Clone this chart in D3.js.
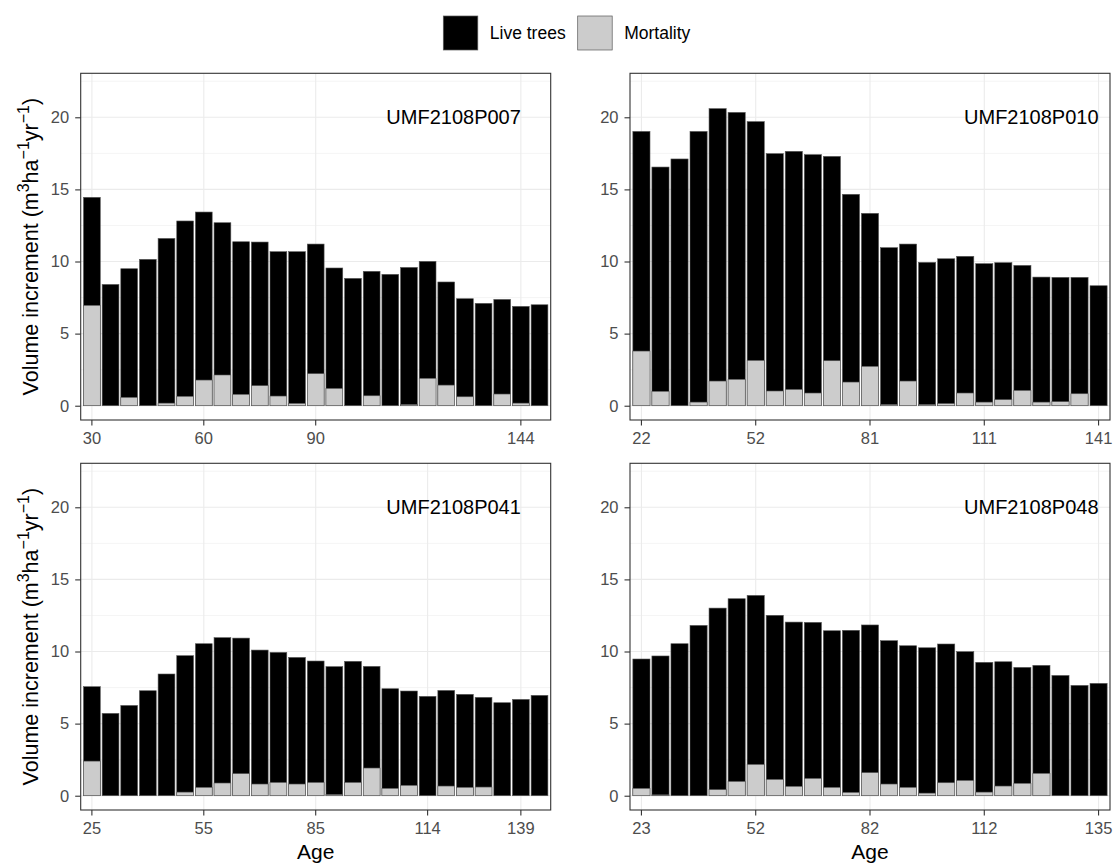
<!DOCTYPE html>
<html><head><meta charset="utf-8">
<script src="https://cdn.jsdelivr.net/npm/d3@7"></script>
<style>
body{margin:0;background:#fff}
svg{display:block}
text{font-family:"Liberation Sans",Arial,Helvetica,sans-serif}
</style>
</head><body>
<svg id="chart" width="1115" height="864"></svg>
<script>
// ---- data ----
const plotIds = ["UMF2108P007", "UMF2108P010", "UMF2108P041", "UMF2108P048"];

const ages007 = [30,35,40,45,50,55,60,65,70,75,80,85,90,94,99,104,109,114,119,124,129,134,139,144,149];
const live007 = [14.45,8.41,9.50,10.15,11.60,12.81,13.43,12.69,11.37,11.35,10.68,10.68,11.21,9.55,8.83,9.32,9.11,9.59,10.01,8.58,7.42,7.10,7.37,6.89,7.00];
const mort007 = [6.96,0,0.58,0,0.18,0.65,1.78,2.13,0.79,1.39,0.67,0.16,2.22,1.20,0,0.69,0,0.08,1.90,1.43,0.62,0,0.81,0.18,0];
const ticks007 = [30,60,90,144];

const ages010 = [22,27,32,37,42,47,52,57,62,67,71,76,81,86,91,96,101,106,111,116,121,126,131,136,141];
const live010 = [19.02,16.55,17.11,19.02,20.60,20.34,19.70,17.48,17.64,17.41,17.29,14.66,13.34,10.96,11.21,9.94,10.19,10.36,9.85,9.92,9.73,8.92,8.90,8.90,8.32];
const mort010 = [3.79,1.00,0,0.25,1.71,1.83,3.14,1.02,1.13,0.88,3.12,1.64,2.73,0.08,1.71,0.08,0.15,0.88,0.25,0.42,1.06,0.25,0.28,0.83,0];
const ticks010 = [22,52,81,111,141];

const ages041 = [25,30,35,40,45,50,55,60,65,70,75,80,85,90,95,100,105,110,114,119,124,129,134,139,144];
const live041 = [7.56,5.71,6.26,7.28,8.44,9.71,10.54,10.96,10.93,10.10,9.94,9.59,9.34,8.95,9.32,8.97,7.42,7.26,6.89,7.30,7.03,6.82,6.45,6.68,6.96];
const mort041 = [2.40,0,0,0,0,0.25,0.58,0.88,1.53,0.81,0.92,0.81,0.92,0.08,0.92,1.92,0.51,0.72,0,0.67,0.58,0.60,0,0,0];
const ticks041 = [25,55,85,114,139];

const ages048 = [23,28,33,38,43,47,52,57,62,67,72,77,82,87,92,97,102,107,112,116,120,124,128,132,135];
const live048 = [9.48,9.69,10.54,11.81,13.01,13.66,13.89,12.51,12.04,12.02,11.44,11.47,11.84,10.75,10.40,10.26,10.52,9.99,9.25,9.29,8.90,9.04,8.34,7.65,7.79];
const mort048 = [0.51,0.06,0,0,0.42,0.99,2.17,1.13,0.65,1.20,0.58,0.23,1.60,0.81,0.58,0.18,0.90,1.06,0.25,0.67,0.86,1.55,0,0,0];
const ticks048 = [23,52,82,112,135];

const yTicks = [0,5,10,15,20];
const yMinor = [2.5,7.5,12.5,17.5,22.5];
const seriesLabels = ["Live trees", "Mortality"];

// ---- assemble ----
const agesAll = [ages007, ages010, ages041, ages048];
const liveAll = [live007, live010, live041, live048];
const mortAll = [mort007, mort010, mort041, mort048];
const ticksAll = [ticks007, ticks010, ticks041, ticks048];

const boxes = [
  {x0:80.7, x1:550.7, y0:73.3, y1:420, left:true, bottom:false},
  {x0:630,  x1:1110,  y0:73.3, y1:420, left:false, bottom:false},
  {x0:80.7, x1:550.7, y0:463.3, y1:810, left:true, bottom:true},
  {x0:630,  x1:1110,  y0:463.3, y1:810, left:false, bottom:true}
];

const svg = d3.select("#chart");
svg.append("rect").attr("width",1115).attr("height",864).attr("fill","#fff");

const LIVE_FILL = "#000000", MORT_FILL = "#CCCCCC", BAR_STROKE = "#595959";
const GRID = "#EBEBEB";

plotIds.forEach((id, p) => {
  const b = boxes[p];
  const ages = agesAll[p];
  const rows = ages.map((a, i) => ({age:a, live:liveAll[p][i], mort:mortAll[p][i]}));
  const x = d3.scaleBand().domain(ages).range([b.x0, b.x1]).paddingInner(0.1).paddingOuter(0.15);
  const y = d3.scaleLinear().domain([-0.99, 23.05]).range([b.y1, b.y0]);
  const bw = x.bandwidth();
  const g = svg.append("g");

  // grid
  g.selectAll(".ymin").data(yMinor).join("line")
    .attr("x1", b.x0).attr("x2", b.x1).attr("y1", d => y(d)).attr("y2", d => y(d))
    .attr("stroke", GRID).attr("stroke-width", 0.55);
  g.selectAll(".ymaj").data(yTicks).join("line")
    .attr("x1", b.x0).attr("x2", b.x1).attr("y1", d => y(d)).attr("y2", d => y(d))
    .attr("stroke", GRID).attr("stroke-width", 1.1);
  g.selectAll(".xmaj").data(ticksAll[p]).join("line")
    .attr("x1", d => x(d) + bw/2).attr("x2", d => x(d) + bw/2).attr("y1", b.y0).attr("y2", b.y1)
    .attr("stroke", GRID).attr("stroke-width", 1.1);

  // bars
  g.selectAll(".live").data(rows).join("rect")
    .attr("x", d => x(d.age)).attr("width", bw)
    .attr("y", d => y(d.live)).attr("height", d => y(0) - y(d.live))
    .attr("fill", LIVE_FILL).attr("stroke", BAR_STROKE).attr("stroke-width", 0.6);
  g.selectAll(".mort").data(rows.filter(d => d.mort > 0)).join("rect")
    .attr("x", d => x(d.age)).attr("width", bw)
    .attr("y", d => y(d.mort)).attr("height", d => y(0) - y(d.mort))
    .attr("fill", MORT_FILL).attr("stroke", BAR_STROKE).attr("stroke-width", 0.6);

  // plot label
  const last = ticksAll[p][ticksAll[p].length - 1];
  g.append("text").attr("x", x(last) + bw/2).attr("y", y(20))
    .attr("text-anchor", "end").attr("dominant-baseline", "central")
    .attr("font-size", "20px").attr("fill", "#000").text(id);

  // border
  g.append("rect").attr("x", b.x0).attr("y", b.y0).attr("width", b.x1 - b.x0).attr("height", b.y1 - b.y0)
    .attr("fill", "none").attr("stroke", "#333333").attr("stroke-width", 1.1);

  // axes
  const ya = g.append("g").attr("transform", `translate(${b.x0},0)`)
    .call(d3.axisLeft(y).tickValues(yTicks).tickSize(5.5).tickPadding(6).tickFormat(d3.format("d")));
  const xa = g.append("g").attr("transform", `translate(0,${b.y1})`)
    .call(d3.axisBottom(x).tickValues(ticksAll[p]).tickSize(5.5).tickPadding(6.8));
  [ya, xa].forEach(a => {
    a.select(".domain").remove();
    a.selectAll(".tick line").attr("stroke", "#333333").attr("stroke-width", 1.1);
    a.selectAll(".tick text").attr("fill", "#4D4D4D").attr("font-size", "16.5px")
      .attr("font-family", "'Liberation Sans',Arial,Helvetica,sans-serif");
  });

  // y title
  if (b.left) {
    const cy = (b.y0 + b.y1) / 2;
    const t = g.append("text").attr("transform", `translate(38,${cy}) rotate(-90)`)
      .attr("text-anchor", "middle").attr("font-size", "21.5px").attr("fill", "#000");
    t.append("tspan").text("Volume increment (m");
    t.append("tspan").attr("dy", -9).attr("font-size", "16px").text("3");
    t.append("tspan").attr("dy", 9).text("ha");
    t.append("tspan").attr("dy", -9).attr("font-size", "16px").text("\u22121");
    t.append("tspan").attr("dy", 9).text("yr");
    t.append("tspan").attr("dy", -9).attr("font-size", "16px").text("\u22121");
    t.append("tspan").attr("dy", 9).text(")");
  }
  // x title
  if (b.bottom) {
    g.append("text").attr("x", (b.x0 + b.x1) / 2).attr("y", 859)
      .attr("text-anchor", "middle").attr("font-size", "21px").attr("fill", "#000").text("Age");
  }
});

// legend
const legendFills = [LIVE_FILL, MORT_FILL];
const legendX = [443.3, 577.7];
const lg = svg.append("g");
seriesLabels.forEach((lab, i) => {
  lg.append("rect").attr("x", legendX[i]).attr("y", 16).attr("width", 34.5).attr("height", 34)
    .attr("fill", legendFills[i]).attr("stroke", BAR_STROKE).attr("stroke-width", 0.7);
  lg.append("text").attr("x", legendX[i] + 46.5).attr("y", 33).attr("dominant-baseline", "central")
    .attr("font-size", "17.5px").attr("fill", "#000").text(lab);
});
</script>
</body></html>
